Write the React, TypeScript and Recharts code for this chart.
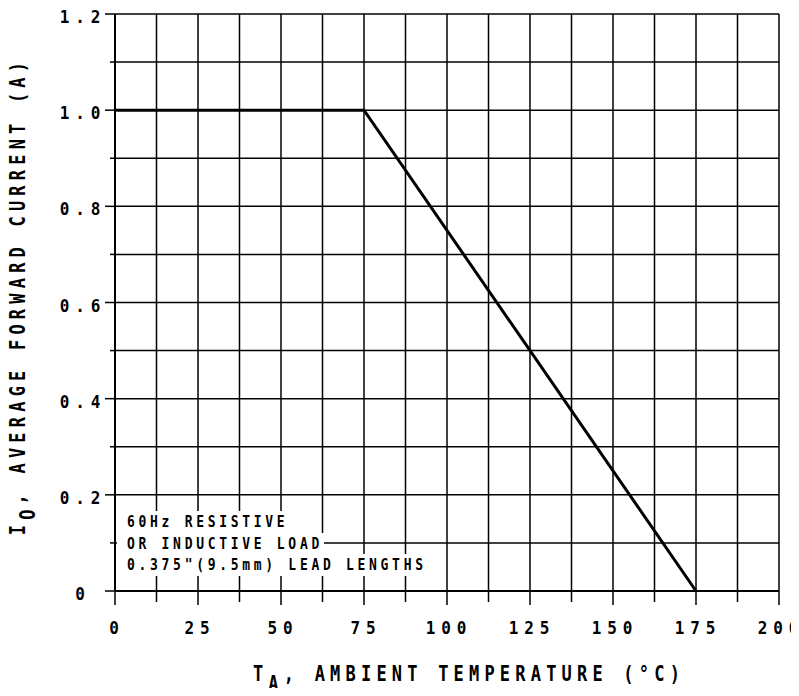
import React from "react"
import { LineChart, Line, XAxis, YAxis, CartesianGrid } from "recharts"

// derating curve: ambient temperature (°C) vs average forward current (A)
const temps = [0, 75, 175]
const currents = [1.0, 1.0, 0]

const xTicks = [0, 12.5, 25, 37.5, 50, 62.5, 75, 87.5, 100, 112.5, 125, 137.5, 150, 162.5, 175, 187.5, 200]
const yTicks = [0, 0.1, 0.2, 0.3, 0.4, 0.5, 0.6, 0.7, 0.8, 0.9, 1.0, 1.1, 1.2]
const yLabels: Record<string, string> = { "0": "0", "0.2": "0.2", "0.4": "0.4", "0.6": "0.6", "0.8": "0.8", "1": "1.0", "1.2": "1.2" }

const noteLines = ["60Hz RESISTIVE", "OR INDUCTIVE LOAD", "0.375\"(9.5mm) LEAD LENGTHS"]

const data = temps.map((t, i) => ({ t, io: currents[i] }))

// plotter style lettering: fixed pitch, tall glyphs
const mono = "'DejaVu Sans Mono', 'Liberation Mono', monospace"
const PITCH = 15.5

// one tspan per character so the pitch is fixed and nothing trails
function Spaced({ cx, y, label }: { cx: number; y: number; label: string }) {
  const chars = label.split("")
  const n = chars.length
  return (
    <text
      transform={`translate(0,${y}) scale(1,1.15)`}
      fontFamily={mono}
      fontWeight="bold"
      fontSize={16}
      fill="#000"
    >
      {chars.map((c, i) => (
        <tspan key={i} x={cx + (i - (n - 1) / 2) * PITCH} y={0} textAnchor="middle">
          {c}
        </tspan>
      ))}
    </text>
  )
}

function XTick(props: any) {
  const { x, y, payload } = props
  const major = payload.value % 25 === 0
  return (
    <g>
      <line x1={x} x2={x} y1={y} y2={y + (major ? 14 : 11)} stroke="#000" strokeWidth={1.5} />
      {major && <Spaced cx={x - 1} y={y + 43} label={String(payload.value)} />}
    </g>
  )
}

function YTick(props: any) {
  const { x, y, payload } = props
  const label = yLabels[String(Math.round(payload.value * 10) / 10)]
  return (
    <g>
      <line x1={x} x2={x - (label ? 10 : 5)} y1={y} y2={y} stroke="#000" strokeWidth={1.5} />
      {label && <Spaced cx={x - 35} y={y + 9} label={label} />}
    </g>
  )
}

const titleText: React.CSSProperties = {
  fontFamily: mono,
  fontWeight: "bold",
  fontSize: 17,
  letterSpacing: 5.2,
  lineHeight: "20px",
  whiteSpace: "nowrap",
  textAlign: "center",
  width: 600,
  height: 20,
  position: "absolute",
}

export default function App() {
  return (
    <div style={{ position: "relative", width: 791, height: 680 }}>
      <style>{`.recharts-surface { overflow: visible; }`}</style>
      <LineChart width={791} height={680} data={data} margin={{ top: 6, right: 20, bottom: 0, left: 0 }}>
        <CartesianGrid stroke="#000" strokeWidth={1.5} />
        <XAxis
          dataKey="t"
          type="number"
          domain={[0, 200]}
          ticks={xTicks}
          interval={0}
          height={97}
          tickSize={0}
          tickMargin={0}
          axisLine={{ stroke: "#000", strokeWidth: 2 }}
          tick={<XTick />}
        />
        <YAxis
          dataKey="io"
          type="number"
          domain={[0, 1.2]}
          ticks={yTicks}
          interval={0}
          width={107}
          tickSize={0}
          tickMargin={0}
          axisLine={{ stroke: "#000", strokeWidth: 2 }}
          tick={<YTick />}
        />
        <Line dataKey="io" stroke="#000" strokeWidth={3} dot={false} isAnimationActive={false} />
      </LineChart>

      {/* note box, white behind each line */}
      <div style={{ position: "absolute", left: 109, top: 503 }}>
        {noteLines.map(l => (
          <div
            key={l}
            style={{
              width: "fit-content",
              background: "#fff",
              height: 21.7,
              lineHeight: "21.7px",
              paddingLeft: 10,
              paddingRight: 1,
              fontFamily: mono,
              fontWeight: "bold",
              fontSize: 13,
              letterSpacing: 3.7,
              whiteSpace: "nowrap",
            }}
          >
            <span style={{ display: "inline-block", transform: "scaleY(1.15)" }}>{l}</span>
          </div>
        ))}
      </div>

      <div style={{ ...titleText, left: 161, top: 656 }}>
        <span style={{ display: "inline-block", transform: "scaleY(1.2)" }}>
          T<span style={{ position: "relative", top: 8 }}>A</span>, AMBIENT TEMPERATURE (°C)
        </span>
      </div>

      <div style={{ ...titleText, left: -290.5, top: 278.4, transform: "rotate(-90deg)" }}>
        <span style={{ display: "inline-block", transform: "scaleY(1.2)" }}>
          I<span style={{ position: "relative", top: 8 }}>O</span>, AVERAGE FORWARD CURRENT (A)
        </span>
      </div>
    </div>
  )
}
